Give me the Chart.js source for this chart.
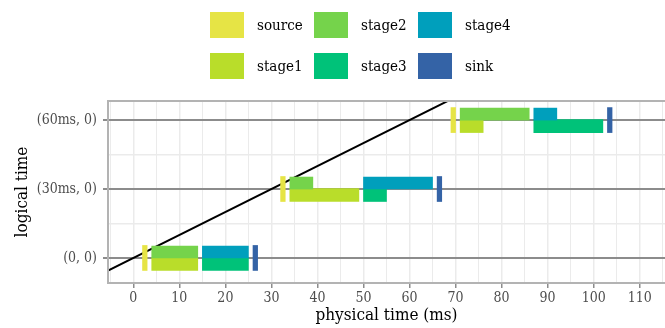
<!DOCTYPE html>
<html>
<head>
<meta charset="utf-8">
<script src="https://cdn.jsdelivr.net/npm/chart.js@4.4.1/dist/chart.umd.min.js"></script>
<style>
  body { margin: 0; background: #fff; }
  #wrap { position: relative; width: 665px; height: 328px; }
  #legend { position: absolute; left: 0; top: 0; width: 665px; height: 90px;
            font-family: 'DejaVu Serif Condensed', 'Liberation Serif', serif; font-size: 15px; color: #000; }
  .item { position: absolute; height: 26px; line-height: 26px; }
  .box { position: absolute; left: 0; top: 0; width: 34px; height: 26px; }
  .lbl { position: absolute; left: 47px; top: 0; white-space: nowrap; }
</style>
</head>
<body>
<div id="wrap">
  <canvas id="myChart" width="665" height="328"></canvas>
  <div id="legend"></div>
</div>
<script>
// niveaux logiques (ms) et libellés de l'axe y
var levels = [0, 30, 60];
var levelLabels = ['(0, 0)', '(30ms, 0)', '(60ms, 0)'];

// début / fin de chaque étape, en temps physique (ms), un par niveau
var sourceStart = [2, 32, 69];
var sourceEnd = [3, 33, 70];
var stage1Start = [4, 34, 71];
var stage1End = [14, 49, 76];
var stage2Start = [4, 34, 71];
var stage2End = [14, 39, 86];
var stage3Start = [15, 50, 87];
var stage3End = [25, 55, 102];
var stage4Start = [15, 50, 87];
var stage4End = [25, 65, 92];
var sinkStart = [26, 66, 103];
var sinkEnd = [27, 67, 104];

// ligne temps logique = temps physique
var diagX = [-20, 130];

var xTicks = [-5, 0, 5, 10, 15, 20, 25, 30, 35, 40, 45, 50, 55, 60, 65, 70, 75, 80, 85, 90, 95, 100, 105, 110, 115];
var yTicks = [0, 15, 30, 45, 60];

var FONT = "'DejaVu Serif Condensed', 'Liberation Serif', serif";
var HALF = 2.6; // demi-hauteur d'une barre, en ms sur l'axe y

function bars(starts, ends, shift) {
  return levels.map(function (lv, i) {
    return { x: [starts[i], ends[i]], y: lv + shift };
  });
}

// ordre = ordre de la légende (ligne par ligne)
var series = [
  { label: 'source', color: '#e6e445', data: bars(sourceStart, sourceEnd, 0), thick: 25 },
  { label: 'stage2', color: '#75d34b', data: bars(stage2Start, stage2End, HALF), thick: 12 },
  { label: 'stage4', color: '#009fbc', data: bars(stage4Start, stage4End, HALF), thick: 12 },
  { label: 'stage1', color: '#b9dd2a', data: bars(stage1Start, stage1End, -HALF), thick: 13 },
  { label: 'stage3', color: '#00c279', data: bars(stage3Start, stage3End, -HALF), thick: 13 },
  { label: 'sink', color: '#3463a6', data: bars(sinkStart, sinkEnd, 0), thick: 25 }
];

var datasets = series.map(function (s) {
  return {
    type: 'bar',
    label: s.label,
    data: s.data,
    backgroundColor: s.color,
    borderWidth: 0,
    barThickness: s.thick,
    grouped: false,
    order: 1
  };
});
datasets.push({
  type: 'line',
  label: 'diag',
  data: diagX.map(function (v) { return { x: v, y: v }; }),
  borderColor: '#000',
  borderWidth: 2,
  pointRadius: 0,
  order: 10
});

// légende html 3 colonnes x 2 lignes
var legend = document.getElementById('legend');
series.forEach(function (s, i) {
  var col = i % 3, row = Math.floor(i / 3);
  var it = document.createElement('div');
  it.className = 'item';
  it.style.left = (210 + col * 104) + 'px';
  it.style.top = (12 + row * 41) + 'px';
  it.innerHTML = '<div class="box" style="background:' + s.color + '"></div><div class="lbl">' + s.label + '</div>';
  legend.appendChild(it);
});

// cadre du panneau
var frame = {
  id: 'frame',
  afterDraw: function (chart) {
    var a = chart.chartArea, c = chart.ctx;
    c.save();
    c.strokeStyle = '#b3b3b3';
    c.lineWidth = 2;
    c.strokeRect(a.left, a.top, a.right - a.left + 2, a.bottom - a.top);
    c.restore();
  }
};

var ctx = document.getElementById('myChart').getContext('2d');
var myChart = new Chart(ctx, {
  data: { datasets: datasets },
  options: {
    responsive: false,
    animation: false,
    indexAxis: 'y',
    layout: { padding: { top: 101, right: 0, left: 0, bottom: 0 } },
    plugins: { legend: { display: false }, tooltip: { enabled: false } },
    scales: {
      x: {
        type: 'linear',
        min: -5.5,
        max: 115.5,
        offset: false,
        afterBuildTicks: function (s) { s.ticks = xTicks.map(function (v) { return { value: v }; }); },
        afterFit: function (s) { s.height = 45; },
        border: { display: false },
        grid: {
          offset: false,
          color: '#ebebeb',
          lineWidth: function (c) { return c.tick && c.tick.value % 10 === 0 ? 1.5 : 1; },
          tickColor: function (c) { return c.tick && c.tick.value % 10 === 0 && c.tick.value >= 0 ? '#8c8c8c' : 'rgba(0,0,0,0)'; },
          tickLength: 5
        },
        ticks: {
          autoSkip: false,
          maxRotation: 0,
          padding: 2,
          color: '#4d4d4d',
          font: { family: FONT, size: 14 },
          callback: function (v) { return v % 10 === 0 && v >= 0 ? String(v) : ''; }
        },
        title: {
          display: true,
          text: 'physical time (ms)',
          color: '#000',
          font: { family: FONT, size: 17 },
          padding: { top: 0, bottom: 2 }
        }
      },
      y: {
        type: 'linear',
        min: -10.9,
        max: 68.3,
        offset: false,
        afterBuildTicks: function (s) { s.ticks = yTicks.map(function (v) { return { value: v }; }); },
        afterFit: function (s) { s.width = 108; },
        border: { display: false },
        grid: {
          offset: false,
          color: function (c) { return c.tick && levels.indexOf(c.tick.value) >= 0 ? '#8c8c8c' : '#ebebeb'; },
          lineWidth: function (c) { return c.tick && levels.indexOf(c.tick.value) >= 0 ? 2 : 1.5; },
          tickColor: function (c) { return c.tick && levels.indexOf(c.tick.value) >= 0 ? '#8c8c8c' : 'rgba(0,0,0,0)'; },
          tickLength: 5
        },
        ticks: {
          autoSkip: false,
          padding: 6,
          color: '#4d4d4d',
          font: { family: FONT, size: 14 },
          callback: function (v) {
            var k = levels.indexOf(v);
            return k >= 0 ? levelLabels[k] : '';
          }
        },
        title: {
          display: true,
          text: 'logical time',
          color: '#000',
          font: { family: FONT, size: 17 },
          padding: { top: 12, bottom: 0 }
        }
      }
    }
  },
  plugins: [frame]
});
</script>
</body>
</html>
